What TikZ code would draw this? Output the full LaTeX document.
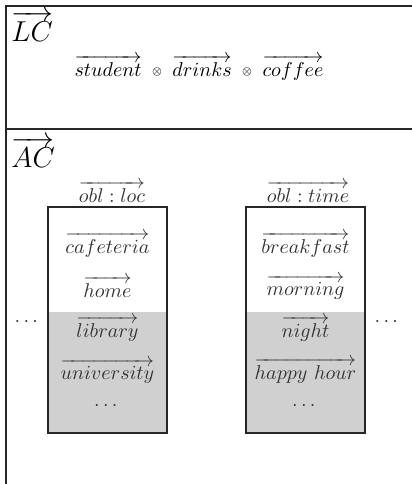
\documentclass[tikz,border=0pt]{standalone}
\usepackage{amsmath}
\definecolor{cellgray}{RGB}{208,208,208}
\newcommand{\vecw}[1]{$\overrightarrow{#1}$}
\newcommand{\tens}{\hspace{5pt}\vcenter{\hbox{$\scriptscriptstyle\otimes$}}\hspace{5pt}}
\begin{document}
\begin{tikzpicture}[x=0.5pt,y=-0.5pt,
  frame/.style={line width=1pt,draw=black!85},
  word/.style={inner sep=0pt,text=black!80},
  ttl/.style={inner sep=0pt,font=\Large,anchor=base west},
  setbox/.style={line width=1pt,draw=black!85}]
\useasboundingbox (0,0) rectangle (412,484);
% outer frame, open on the right and at the bottom
\draw[frame] (412,5.5) -- (6.5,5.5) -- (6.5,484);
\draw[frame] (6.5,129) -- (412,129);
% section titles
\node[ttl] (lc) at (11,41) {$\overrightarrow{LC}$};
\node[ttl] (ac) at (11,167) {$\overrightarrow{AC}$};
% sentence vector
\node[inner sep=0pt] (sent) at (199,68) {$\overrightarrow{student}\tens\overrightarrow{drinks}\tens\overrightarrow{coffee}$};
% set boxes with shaded lower part
\fill[cellgray] (48,312) rectangle (167,433);
\fill[cellgray] (246,312) rectangle (365,433);
\draw[setbox] (48,207) rectangle (167,433);
\draw[setbox] (246,207) rectangle (365,433);
% box headings
\node[word] (loc) at (112,192) {\vecw{obl:loc}};
\node[word] (time) at (308,192) {\vecw{obl:time}};
% locations
\node[word] (caf) at (107.5,245) {\vecw{cafeteria}};
\node[word] (home) at (107.5,287) {\vecw{home}};
\node[word] (lib) at (107.5,329) {\vecw{library}};
\node[word] (uni) at (107.5,371) {\vecw{university}};
\node[word] (ld) at (107.5,406) {$\cdots$};
% times
\node[word] (bre) at (305.5,245) {\vecw{breakfast}};
\node[word] (mor) at (305.5,287) {\vecw{morning}};
\node[word] (nig) at (305.5,329) {\vecw{night}};
\node[word] (hap) at (305.5,371) {\vecw{happy\ hour}};
\node[word] (td) at (305.5,406) {$\cdots$};
% side ellipses
\node[word] (lout) at (28,322) {$\cdots$};
\node[word] (rout) at (388,322) {$\cdots$};
\end{tikzpicture}
\end{document}
